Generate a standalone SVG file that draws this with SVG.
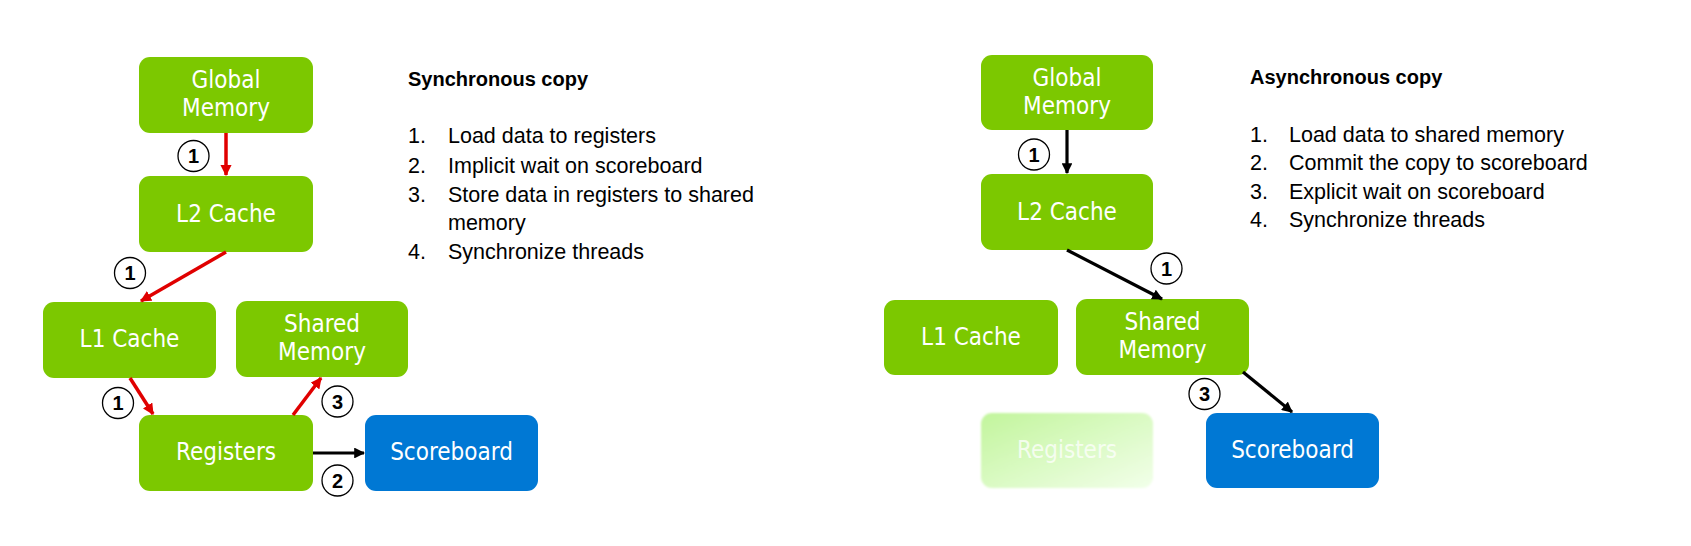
<svg xmlns="http://www.w3.org/2000/svg" width="1691" height="546" viewBox="0 0 1691 546">
<defs>
<style>
.node{fill:#7cc800}
.blue{fill:#0078d4}
.nt{font-family:"DejaVu Sans Condensed","DejaVu Sans",sans-serif;font-size:24px;fill:#ffffff;text-anchor:middle}
.title{font-family:"Liberation Sans",Arial,sans-serif;font-size:20px;font-weight:bold;fill:#000}
.item{font-family:"Liberation Sans",Arial,sans-serif;font-size:21.5px;fill:#000}
.red{stroke:#e00000;stroke-width:3.5;fill:none}
.blk{stroke:#000;stroke-width:3.2;fill:none}
.circ{fill:#fff;stroke:#000;stroke-width:1.3}
.num{font-family:"Liberation Sans",Arial,sans-serif;font-size:20px;font-weight:bold;fill:#000;text-anchor:middle}
</style>
<marker id="ar" viewBox="0 0 10 10" refX="9" refY="5" markerWidth="3.2" markerHeight="3.2" orient="auto" markerUnits="strokeWidth">
<path d="M0,0 L10,5 L0,10 z" fill="#e00000"/>
</marker>
<marker id="ab" viewBox="0 0 10 10" refX="9" refY="5" markerWidth="3.4" markerHeight="3.4" orient="auto" markerUnits="strokeWidth">
<path d="M0,0 L10,5 L0,10 z" fill="#000"/>
</marker>
<linearGradient id="fade" x1="0" y1="0" x2="1" y2="1">
<stop offset="0" stop-color="#c2f59c"/>
<stop offset="1" stop-color="#f2ffea"/>
</linearGradient>
<filter id="soft" x="-10%" y="-10%" width="120%" height="120%">
<feGaussianBlur stdDeviation="1.2"/>
</filter>
</defs>
<rect width="1691" height="546" fill="#ffffff"/>

<!-- Left: Synchronous copy -->
<g id="l-global"><rect class="node" x="139" y="57" width="174" height="76" rx="11"/><text class="nt" x="226" y="88">Global</text><text class="nt" x="226" y="116">Memory</text></g>
<g id="l-l2"><rect class="node" x="139" y="176" width="174" height="76" rx="11"/><text class="nt" x="226" y="222">L2 Cache</text></g>
<g id="l-l1"><rect class="node" x="43" y="302" width="173" height="76" rx="11"/><text class="nt" x="129.5" y="347">L1 Cache</text></g>
<g id="l-shared"><rect class="node" x="236" y="301" width="172" height="76" rx="11"/><text class="nt" x="322" y="332">Shared</text><text class="nt" x="322" y="360">Memory</text></g>
<g id="l-reg"><rect class="node" x="139" y="415" width="174" height="76" rx="11"/><text class="nt" x="226" y="460">Registers</text></g>
<g id="l-score"><rect class="blue" x="365" y="415" width="173" height="76" rx="11"/><text class="nt" x="451.5" y="460">Scoreboard</text></g>

<g id="l-text">
<text class="title" x="408" y="86">Synchronous copy</text>
<text class="item" x="408" y="143">1.</text><text class="item" x="448" y="143">Load data to registers</text>
<text class="item" x="408" y="172.5">2.</text><text class="item" x="448" y="172.5">Implicit wait on scoreboard</text>
<text class="item" x="408" y="201.5">3.</text><text class="item" x="448" y="201.5">Store data in registers to shared</text>
<text class="item" x="448" y="230">memory</text>
<text class="item" x="408" y="258.5">4.</text><text class="item" x="448" y="258.5">Synchronize threads</text>
</g>

<!-- Right: Asynchronous copy -->
<g id="r-global"><rect class="node" x="981" y="55" width="172" height="75" rx="11"/><text class="nt" x="1067" y="86">Global</text><text class="nt" x="1067" y="114">Memory</text></g>
<g id="r-l2"><rect class="node" x="981" y="174" width="172" height="76" rx="11"/><text class="nt" x="1067" y="219.5">L2 Cache</text></g>
<g id="r-l1"><rect class="node" x="884" y="300" width="174" height="75" rx="11"/><text class="nt" x="971" y="345">L1 Cache</text></g>
<g id="r-shared"><rect class="node" x="1076" y="299" width="173" height="76" rx="11"/><text class="nt" x="1162.5" y="330">Shared</text><text class="nt" x="1162.5" y="358">Memory</text></g>
<g id="r-reg"><rect fill="url(#fade)" filter="url(#soft)" x="981" y="413" width="172" height="75" rx="11"/><text class="nt" x="1067" y="458" fill-opacity="0.75">Registers</text></g>
<g id="r-score"><rect class="blue" x="1206" y="413" width="173" height="75" rx="11"/><text class="nt" x="1292.5" y="458">Scoreboard</text></g>

<g id="r-text">
<text class="title" x="1250" y="83.5">Asynchronous copy</text>
<text class="item" x="1250" y="141.5">1.</text><text class="item" x="1289" y="141.5">Load data to shared memory</text>
<text class="item" x="1250" y="170">2.</text><text class="item" x="1289" y="170">Commit the copy to scoreboard</text>
<text class="item" x="1250" y="199">3.</text><text class="item" x="1289" y="199">Explicit wait on scoreboard</text>
<text class="item" x="1250" y="226.5">4.</text><text class="item" x="1289" y="226.5">Synchronize threads</text>
</g>

<g id="connectors">
<line class="red" x1="226" y1="133" x2="226" y2="175" marker-end="url(#ar)"/>
<line class="red" x1="226" y1="252" x2="141" y2="301" marker-end="url(#ar)"/>
<line class="red" x1="130" y1="378" x2="153" y2="414" marker-end="url(#ar)"/>
<line class="red" x1="293" y1="415" x2="321" y2="378" marker-end="url(#ar)"/>
<line class="blk" x1="313" y1="453" x2="364" y2="453" marker-end="url(#ab)"/>
<line class="blk" x1="1067" y1="130" x2="1067" y2="173" marker-end="url(#ab)"/>
<line class="blk" x1="1067" y1="250" x2="1162" y2="299" marker-end="url(#ab)"/>
<line class="blk" x1="1243" y1="372" x2="1292" y2="412" marker-end="url(#ab)"/>

<g id="badges">
<circle class="circ" cx="193.5" cy="156" r="15.5"/><text class="num" x="193.5" y="163">1</text>
<circle class="circ" cx="130" cy="273" r="15.5"/><text class="num" x="130" y="280">1</text>
<circle class="circ" cx="118" cy="403" r="15.5"/><text class="num" x="118" y="410">1</text>
<circle class="circ" cx="337.5" cy="401.5" r="15.5"/><text class="num" x="337.5" y="408.5">3</text>
<circle class="circ" cx="337.5" cy="480.5" r="15.5"/><text class="num" x="337.5" y="487.5">2</text>
<circle class="circ" cx="1034" cy="154.5" r="15.5"/><text class="num" x="1034" y="161.5">1</text>
<circle class="circ" cx="1166.5" cy="268.5" r="15.5"/><text class="num" x="1166.5" y="275.5">1</text>
<circle class="circ" cx="1204.5" cy="394" r="15.5"/><text class="num" x="1204.5" y="401">3</text>
</g>
</g>
</svg>
